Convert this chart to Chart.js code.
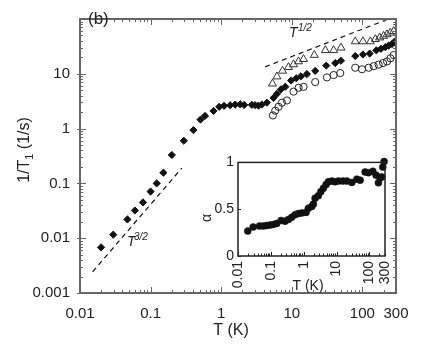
<!DOCTYPE html>
<html>
<head>
<meta charset="utf-8">
<script src="https://cdn.jsdelivr.net/npm/chart.js@4.4.1/dist/chart.umd.min.js"></script>
<style>
  html, body { margin: 0; padding: 0; background: #fff; }
  #wrap { position: relative; width: 436px; height: 345px; }
  #main { position: absolute; left: 0; top: 0; }
  #inset { position: absolute; left: 190px; top: 150px; }
</style>
</head>
<body>
<div id="wrap">
  <canvas id="main" width="436" height="345"></canvas>
  <canvas id="inset" width="205" height="145"></canvas>
</div>
<script>
const FONT = "'Liberation Sans', Arial, Helvetica, sans-serif";
Chart.defaults.font.family = FONT;
Chart.defaults.color = '#222';

// main panel: 1/T1 (1/s) vs T (K)
const diamondT = [0.0199, 0.0296, 0.047, 0.06, 0.078, 0.1, 0.122, 0.152, 0.2, 0.296, 0.405, 0.51, 0.59, 0.78, 0.94,
  1.1, 1.34, 1.58, 1.86, 2.12, 2.72, 3.03, 3.38, 3.77, 4.44, 5.52, 6.17, 7.03, 8.1, 9.8, 11.6, 13.5, 16.4, 21.5,
  30.8, 41.4, 49.8, 79.4, 102, 127, 158, 184, 212, 236, 263, 284];
const diamondRate = [0.0068, 0.0116, 0.022, 0.032, 0.045, 0.071, 0.1, 0.157, 0.33, 0.6, 0.94, 1.46, 1.7, 2.1, 2.5,
  2.6, 2.67, 2.74, 2.77, 2.7, 2.72, 2.68, 2.62, 2.75, 2.97, 3.63, 4.3, 5.2, 5.8, 7.55, 8.3, 9.0, 9.9, 11.3,
  14.1, 15.7, 17.3, 21.1, 22.5, 23.4, 26.8, 28.6, 30.6, 32.7, 34.9, 38.4];
const triT = [5.34, 6.17, 7.41, 9.0, 10.6, 12.5, 14.7, 20.9, 29.9, 39.2, 49.9, 79.4, 102, 130, 153, 176, 200, 224, 249, 278];
const triRate = [6.6, 8.9, 11.3, 13.2, 14.8, 16.8, 18.5, 22, 26.9, 26.9, 29.9, 38.9, 38.9, 38.9, 42.8, 45.8, 49, 52.3, 56, 59.8];
const circT = [5.41, 5.83, 6.5, 7.26, 8.55, 10.6, 12.5, 14.7, 21.5, 31.5, 39.2, 48.7, 79.4, 99, 123, 145, 170, 197, 224, 250, 278];
const circRate = [1.74, 2.12, 2.5, 2.97, 3.26, 4.73, 5.55, 5.78, 7.06, 8.6, 9.5, 10.3, 12.9, 12.1, 12.9, 13.8, 14.7, 15.7, 16.8, 19.2, 22];
// guide lines T^3/2 and T^1/2
const lowFitT = [0.0151, 0.277];
const lowFitRate = [0.00244, 0.19];
const highFitT = [4.2, 280];
const highFitRate = [13.4, 109];
const xTickVals = [0.01, 0.1, 1, 10, 100, 300];
const yTickVals = [0.001, 0.01, 0.1, 1, 10];

// inset: alpha vs T (K)
const alphaT = [0.0198, 0.029, 0.045, 0.059, 0.075, 0.095, 0.119, 0.151, 0.205, 0.27, 0.342, 0.434, 0.547, 0.69, 0.874,
  1.18, 1.39, 1.77, 1.98, 2.23, 2.8, 3.32, 3.99, 4.82, 5.66, 7.19, 9.06, 11.4, 15.6, 20.6, 29.3, 41.6, 52.5,
  74.5, 94, 128, 161, 189, 213, 240, 257, 282];
const alphaVal = [0.266, 0.31, 0.32, 0.32, 0.326, 0.33, 0.337, 0.347, 0.379, 0.372, 0.39, 0.414, 0.442, 0.453, 0.46,
  0.466, 0.51, 0.53, 0.555, 0.618, 0.645, 0.687, 0.723, 0.765, 0.793, 0.8, 0.793, 0.8, 0.8, 0.8, 0.786, 0.821, 0.81,
  0.898, 0.89, 0.905, 0.863, 0.782, 0.835, 0.845, 0.95, 1.01];
const insetXTicks = [0.01, 0.1, 1, 10, 100, 300];
const insetYTicks = [0, 0.5, 1];

const pts = (xs, ys) => xs.map((x, i) => ({ x, y: ys[i] }));

function logSteps(min, max) {
  const out = [];
  for (let d = Math.floor(Math.log10(min)); d <= Math.ceil(Math.log10(max)); d++) {
    for (let m = 1; m <= 9; m++) {
      const v = m * Math.pow(10, d);
      if (v >= min * 0.999 && v <= max * 1.001) out.push(v);
    }
  }
  return out;
}

// text turned a quarter turn, reading upward, ending at (x, y)
function upText(ctx, str, x, y, align) {
  ctx.save();
  ctx.setTransform(0, -1, 1, 0, x, y);
  ctx.textAlign = align;
  ctx.fillText(str, 0, 0);
  ctx.restore();
}

// box round the plot area with short inward ticks
const frameTicks = {
  id: 'frameTicks',
  afterDraw(chart, args, o) {
    const { ctx, chartArea: a, scales: { x, y } } = chart;
    ctx.save();
    ctx.strokeStyle = o.color;
    ctx.lineWidth = 1;
    ctx.beginPath();
    (o.xTicks || []).forEach(([v, len]) => {
      const px = Math.round(x.getPixelForValue(v)) + 0.5;
      ctx.moveTo(px, a.bottom); ctx.lineTo(px, a.bottom - len);
      if (o.top) { ctx.moveTo(px, a.top); ctx.lineTo(px, a.top + len); }
    });
    (o.yTicks || []).forEach(([v, len, out]) => {
      const py = Math.round(y.getPixelForValue(v)) + 0.5;
      ctx.moveTo(a.left - (out || 0), py); ctx.lineTo(a.left + len, py);
      if (o.right) { ctx.moveTo(a.right, py); ctx.lineTo(a.right - len, py); }
    });
    ctx.stroke();
    ctx.lineWidth = o.width;
    ctx.strokeRect(a.left, a.top, a.right - a.left, a.bottom - a.top);
    ctx.restore();
  }
};

const mainText = {
  id: 'mainText',
  afterDraw(chart) {
    const ctx = chart.ctx;
    ctx.save();
    ctx.fillStyle = '#222';
    ctx.textBaseline = 'alphabetic';
    ctx.font = `17px ${FONT}`;
    ctx.fillText('(b)', 88, 24);
    ctx.font = `italic 14px ${FONT}`;
    ctx.fillText('T', 289, 37);
    ctx.fillText('T', 127, 246);
    ctx.font = `italic 10px ${FONT}`;
    ctx.fillText('1/2', 298, 31);
    ctx.fillText('3/2', 134, 240);
    ctx.font = `16px ${FONT}`;
    ctx.textAlign = 'center';
    ctx.fillText('T (K)', 231, 335);
    // y title: 1/T1 (1/s), rotated
    ctx.textAlign = 'left';
    const parts = [['1', 16, 0], ['/T', 16, 0], ['1', 11, 4], [' (1/s)', 16, 0]];
    let total = 0;
    parts.forEach(p => { ctx.font = `${p[1]}px ${FONT}`; total += ctx.measureText(p[0]).width; });
    ctx.translate(29, 150);
    ctx.rotate(-Math.PI / 2);
    let cx = -total / 2;
    parts.forEach(p => {
      ctx.font = `${p[1]}px ${FONT}`;
      ctx.fillText(p[0], cx, p[2]);
      cx += ctx.measureText(p[0]).width;
    });
    ctx.restore();
  }
};

// inset: upright tick labels on x, axis titles
const insetText = {
  id: 'insetText',
  afterDraw(chart) {
    const { ctx, chartArea: a, scales: { x } } = chart;
    ctx.save();
    ctx.fillStyle = '#222';
    ctx.font = `14px ${FONT}`;
    ctx.textBaseline = 'middle';
    insetXTicks.forEach(v => upText(ctx, String(v), x.getPixelForValue(v), a.bottom + 5, 'right'));
    upText(ctx, '\u03b1', 17, 68, 'center');
    ctx.textAlign = 'center';
    ctx.fillText('T (K)', 118, 136);
    ctx.restore();
  }
};

const xDecades = [0.01, 0.1, 1, 10, 100];
const mainXTicks = logSteps(0.01, 300).map(v => [v, xDecades.includes(v) ? 6 : 3]);
const mainYTicks = logSteps(0.001, 100).map(v => [v, yTickVals.includes(v) ? 6 : 3, yTickVals.includes(v) ? 3 : 0]);

new Chart(document.getElementById('main'), {
  type: 'scatter',
  data: {
    datasets: [
      { data: pts(lowFitT, lowFitRate), showLine: true, pointRadius: 0, borderColor: '#111', borderWidth: 1.2, borderDash: [5, 4] },
      { data: pts(highFitT, highFitRate), showLine: true, pointRadius: 0, borderColor: '#111', borderWidth: 1.2, borderDash: [5, 4] },
      { data: pts(triT, triRate), pointStyle: 'triangle', pointRadius: 4.6, backgroundColor: 'rgba(0,0,0,0)', borderColor: '#333', borderWidth: 1 },
      { data: pts(circT, circRate), pointStyle: 'circle', pointRadius: 3.6, backgroundColor: 'rgba(0,0,0,0)', borderColor: '#222', borderWidth: 1 },
      { data: pts(diamondT, diamondRate), pointStyle: 'rectRot', pointRadius: 3.6, backgroundColor: '#111', borderColor: '#111', borderWidth: 1 }
    ]
  },
  options: {
    responsive: false,
    animation: false,
    events: [],
    layout: { padding: { left: 0, right: 40, top: 6, bottom: 0 } },
    plugins: {
      legend: { display: false },
      tooltip: { enabled: false },
      frameTicks: { color: '#666', width: 2, xTicks: mainXTicks, yTicks: mainYTicks, top: true, right: true }
    },
    scales: {
      x: {
        type: 'logarithmic', min: 0.01, max: 300,
        grid: { display: false, drawTicks: false }, border: { display: false },
        afterBuildTicks: s => { s.ticks = xTickVals.map(v => ({ value: v })); },
        afterFit: s => { s.height = 52; },
        ticks: { autoSkip: false, minRotation: 0, maxRotation: 0, padding: 12, color: '#222', font: { size: 15 }, callback: v => String(v) }
      },
      y: {
        type: 'logarithmic', min: 0.001, max: 100,
        grid: { display: false, drawTicks: false }, border: { display: false },
        afterBuildTicks: s => { s.ticks = yTickVals.map(v => ({ value: v })); },
        afterFit: s => { s.width = 80; },
        ticks: { autoSkip: false, padding: 10, color: '#222', font: { size: 15 }, callback: v => String(v) }
      }
    }
  },
  plugins: [frameTicks, mainText]
});

const insetDecades = [0.01, 0.1, 1, 10, 100];
new Chart(document.getElementById('inset'), {
  type: 'scatter',
  data: {
    datasets: [
      { data: pts(alphaT, alphaVal), pointStyle: 'circle', pointRadius: 3.5, backgroundColor: '#111', borderColor: '#111', borderWidth: 0.5, clip: false }
    ]
  },
  options: {
    responsive: false,
    animation: false,
    events: [],
    layout: { padding: { left: 0, right: 10, top: 12, bottom: 0 } },
    plugins: {
      legend: { display: false },
      tooltip: { enabled: false },
      frameTicks: {
        color: '#222', width: 1.5,
        xTicks: logSteps(0.01, 300).map(v => [v, insetDecades.includes(v) ? 4 : 2.5]),
        yTicks: insetYTicks.map(v => [v, 3, 0])
      }
    },
    scales: {
      x: {
        type: 'logarithmic', min: 0.01, max: 300,
        grid: { display: false, drawTicks: false }, border: { display: false },
        afterBuildTicks: s => { s.ticks = insetXTicks.map(v => ({ value: v })); },
        afterFit: s => { s.height = 39; },
        ticks: { display: false }
      },
      y: {
        min: 0, max: 1,
        grid: { display: false, drawTicks: false }, border: { display: false },
        afterBuildTicks: s => { s.ticks = insetYTicks.map(v => ({ value: v })); },
        afterFit: s => { s.width = 48; },
        ticks: { autoSkip: false, padding: 4, color: '#222', font: { size: 14 }, callback: v => String(v) }
      }
    }
  },
  plugins: [frameTicks, insetText]
});
</script>
</body>
</html>
